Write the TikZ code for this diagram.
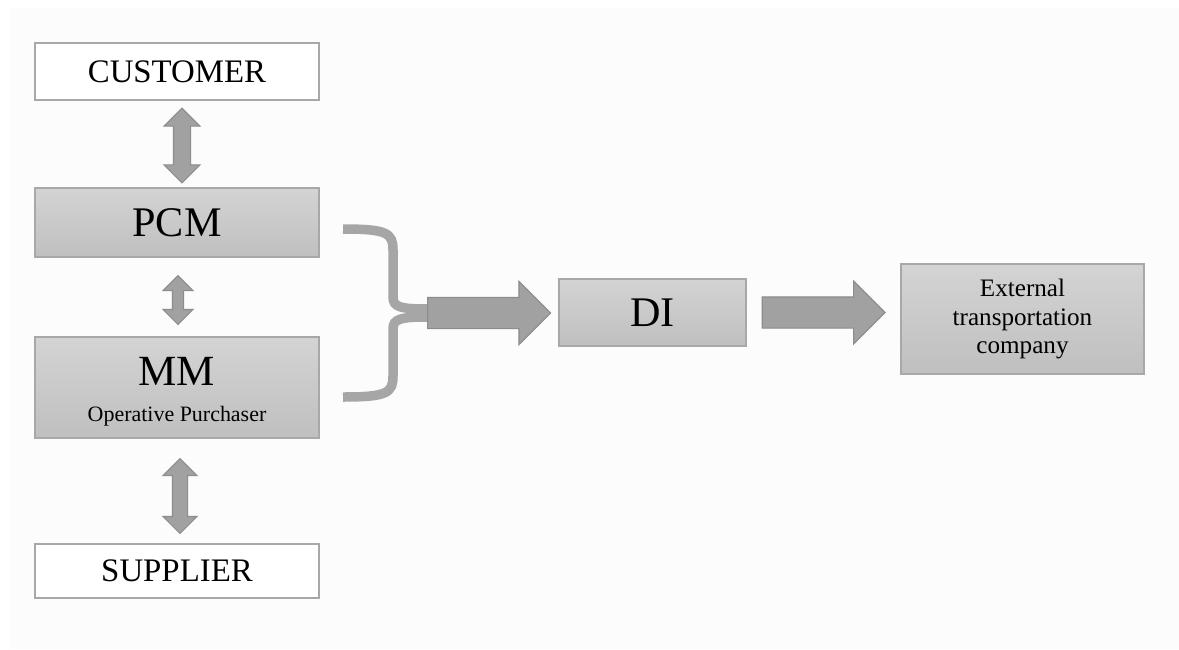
\documentclass[tikz,border=0pt]{standalone}
\usepackage{fontspec}
\setmainfont{Liberation Serif}
\usetikzlibrary{positioning,shapes.arrows,calc}

\definecolor{panel}{gray}{0.988}
\definecolor{boxline}{gray}{0.66}
\definecolor{boxtop}{gray}{0.83}
\definecolor{boxbot}{gray}{0.75}
\definecolor{arrowfill}{gray}{0.63}
\definecolor{arrowline}{gray}{0.55}
\definecolor{bracecol}{gray}{0.65}

\tikzset{
  plainbox/.style={rectangle, draw=boxline, line width=0.8pt, fill=white, minimum width=5.68cm},
  greybox/.style={rectangle, draw=boxline, line width=0.8pt, top color=boxtop, bottom color=boxbot},
  updown/.style={double arrow, draw=arrowline, fill=arrowfill, line width=0.6pt, rotate=90,
    inner xsep=0pt, inner ysep=#1, double arrow head extend=0.19cm},
  fatarrow/.style={single arrow, draw=arrowline, fill=arrowfill, line width=0.6pt,
    inner xsep=0pt, inner ysep=0.3cm, single arrow head extend=0.32cm, minimum height=2.46cm}
}

\begin{document}
\begin{tikzpicture}[x=0.02cm, y=-0.02cm]
      \useasboundingbox (0,0) rectangle (1179,649);
      \fill[panel] (10,8) rectangle (1179,649);

      %% left column
      \node (customer) [plainbox, minimum height=1.14cm, font=\fontsize{18.7}{22}\selectfont] at (177,71.5) {CUSTOMER};
      \node (pcm) [greybox, minimum width=5.68cm, minimum height=1.38cm, font=\fontsize{24}{28}\selectfont] at (177,222.5) {PCM};
      \node (mm) [greybox, minimum width=5.68cm, minimum height=2.02cm] at (177,387.5) {};
      \node (mmname) [anchor=base, font=\fontsize{24.5}{28}\selectfont] at (177,385) {MM};
      \node (mmrole) [anchor=base, font=\fontsize{12.5}{15}\selectfont] at (177,421) {Operative Purchaser};
      \node (supplier) [plainbox, minimum height=1.08cm, font=\fontsize{18.7}{22}\selectfont] at (177,571) {SUPPLIER};

      %% right part
      \node (di) [greybox, minimum width=3.74cm, minimum height=1.34cm, font=\fontsize{24}{28}\selectfont] at (652.5,312.5) {DI};
      \node (ext) [greybox, minimum width=4.86cm, minimum height=2.2cm, align=center, font=\fontsize{14.3}{16.5}\selectfont] at (1022.5,319) {External\\transportation\\company};

      \node (cust2pcm) [updown=0.16cm, minimum height=1.5cm] at ($(customer.south)!0.5!(pcm.north)+(5,1.5)$) {};
      \node (pcm2mm) [updown=0.1cm, minimum height=0.98cm] at ($(pcm.south)!0.5!(mm.north)+(1,3)$) {};
      \node (mm2sup) [updown=0.14cm, minimum height=1.5cm] at ($(mm.south)!0.5!(supplier.north)+(3,5)$) {};

      %% brace
      \coordinate (bracetip) at (427,313);
      \draw[bracecol, line width=0.19cm] (343,229) .. controls (387,229) and (393,233) .. (393,250) -- (393,297) .. controls (393,307) and (400,309) .. (428,309);
      \draw[bracecol, line width=0.19cm] (343,397) .. controls (387,397) and (393,393) .. (393,376) -- (393,329) .. controls (393,319) and (400,317) .. (428,317);

      \node (todi) [fatarrow, anchor=tail] at (bracetip) {};
      \node (toext) [fatarrow, anchor=tail] at ($(di.east)+(15,0)$) {};

    \end{tikzpicture}
\end{document}
